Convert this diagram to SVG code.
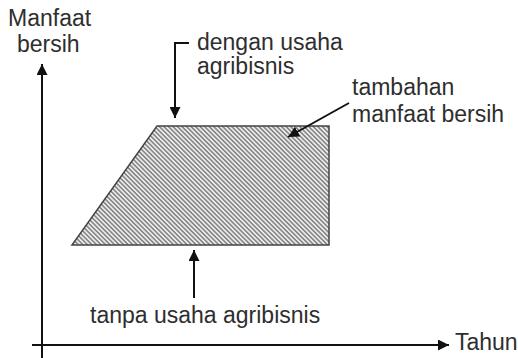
<svg xmlns="http://www.w3.org/2000/svg" width="518" height="358" viewBox="0 0 518 358">
<defs>
<pattern id="hatch" patternUnits="userSpaceOnUse" width="3.2" height="10" patternTransform="rotate(-45)">
<rect width="3.2" height="10" fill="#ececec"/>
<line x1="0.8" y1="0" x2="0.8" y2="10" stroke="#4a4a4a" stroke-width="1"/>
</pattern>
<marker id="ah" viewBox="0 0 10 10" refX="10" refY="5" markerWidth="11" markerHeight="11" markerUnits="userSpaceOnUse" orient="auto">
<path d="M0,0 L10,5 L0,10 Z" fill="#111"/>
</marker>
</defs>
<style>
text{font-family:"Liberation Sans",Arial,sans-serif;font-size:23px;fill:#2e2e2e}
.ax{stroke:#111;stroke-width:2;fill:none}
.ar{stroke:#111;stroke-width:2;fill:none}
</style>
<rect width="518" height="358" fill="#fff"/>
<g id="area">
<polygon points="157,126 329,126 329,245 72,245" fill="url(#hatch)" stroke="#444" stroke-width="1.5"/>
</g>
<g id="connectors">
<line class="ax" x1="42" y1="358" x2="42" y2="64" marker-end="url(#ah)"/>
<line class="ax" x1="32" y1="345" x2="449" y2="345" marker-end="url(#ah)"/>
<polyline class="ar" points="189,43 175,43 175,118" marker-end="url(#ah)"/>
<line class="ar" x1="349" y1="103" x2="288" y2="137" marker-end="url(#ah)"/>
<line class="ar" x1="194" y1="298" x2="194" y2="250" marker-end="url(#ah)"/>
</g>
<g id="label-y">
<text x="8" y="26">Manfaat</text>
<text x="17" y="52">bersih</text>
</g>
<g id="label-x"><text x="455" y="350">Tahun</text></g>
<g id="label-dengan">
<text x="197" y="50">dengan usaha</text>
<text x="197" y="74">agribisnis</text>
</g>
<g id="label-tambahan">
<text x="352" y="95">tambahan</text>
<text x="352" y="122">manfaat bersih</text>
</g>
<g id="label-tanpa"><text x="90" y="323">tanpa usaha agribisnis</text></g>
</svg>
